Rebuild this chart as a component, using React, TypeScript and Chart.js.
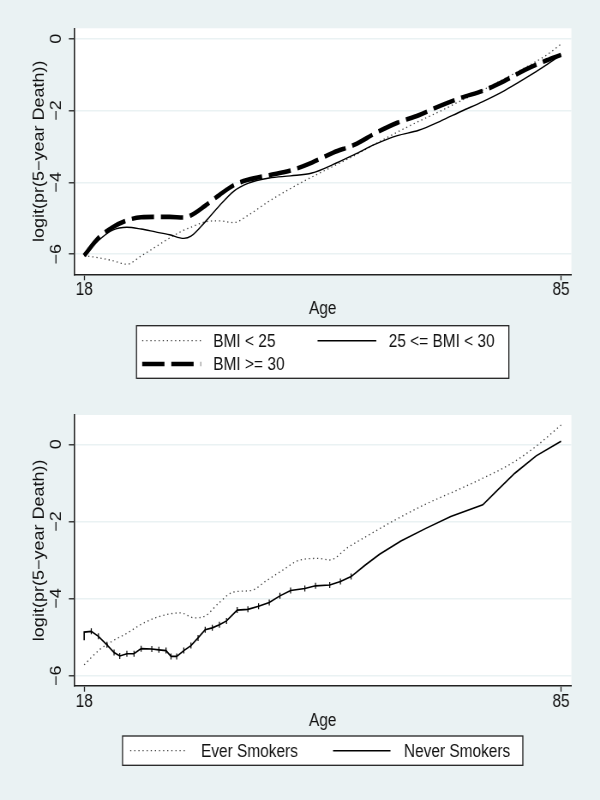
import React, { useEffect, useRef } from "react";
import { Chart, registerables } from "chart.js";

Chart.register(...registerables);

// ---------- data ----------
// Top panel: BMI groups
const bmiAges = [18, 20, 22, 24, 26, 28, 30, 32, 33, 35, 37, 39, 41, 44, 47, 50, 53, 56, 59, 62, 65, 68, 71, 74, 77, 80, 83, 85];
const bmiUnder25 = [-6.04, -6.1, -6.18, -6.28, -6.05, -5.8, -5.55, -5.33, -5.25, -5.1, -5.07, -5.12, -4.92, -4.52, -4.17, -3.85, -3.55, -3.25, -2.92, -2.6, -2.3, -2.02, -1.72, -1.43, -1.12, -0.8, -0.45, -0.15];
const bmi25to30 = [-6.04, -5.62, -5.33, -5.25, -5.3, -5.38, -5.46, -5.56, -5.5, -5.1, -4.65, -4.25, -4.03, -3.88, -3.82, -3.74, -3.5, -3.22, -2.93, -2.7, -2.55, -2.3, -2.02, -1.75, -1.45, -1.1, -0.72, -0.45];
const bmiOver30 = [-6.04, -5.55, -5.25, -5.06, -4.97, -4.96, -4.96, -4.98, -4.92, -4.65, -4.35, -4.08, -3.93, -3.8, -3.67, -3.45, -3.17, -2.95, -2.62, -2.34, -2.13, -1.87, -1.64, -1.45, -1.18, -0.86, -0.6, -0.45];

// Bottom panel: smoking status
const everAges = [18, 20, 22, 24, 26, 28, 30, 31.5, 33.5, 35, 37, 39, 41.5, 43.5, 46, 48.3, 51, 52.5, 55, 58, 62, 66, 70, 74, 78, 81.5, 85];
const everSmokers = [-5.72, -5.35, -5.1, -4.9, -4.67, -4.5, -4.4, -4.37, -4.5, -4.45, -4.1, -3.83, -3.79, -3.55, -3.25, -3.0, -2.96, -3.0, -2.68, -2.35, -1.93, -1.55, -1.22, -0.88, -0.5, -0.05, 0.5];
const neverAges = [18, 18, 19, 20, 21.2, 22.2, 23, 24, 25, 26, 27.5, 28.5, 29.5, 30.2, 31, 32, 33, 34, 35, 36, 37, 38, 39.5, 41, 42.5, 44, 45.5, 47, 49, 50.5, 52.5, 54, 55.5, 57.5, 59.5, 62.5, 66, 69.5, 74, 76, 78.5, 81.5, 85];
const neverSmokers = [-5.08, -4.87, -4.85, -4.98, -5.2, -5.4, -5.49, -5.43, -5.43, -5.3, -5.31, -5.33, -5.35, -5.5, -5.5, -5.35, -5.22, -5.02, -4.81, -4.76, -4.68, -4.58, -4.3, -4.28, -4.2, -4.1, -3.93, -3.79, -3.74, -3.67, -3.65, -3.56, -3.43, -3.13, -2.85, -2.51, -2.18, -1.87, -1.57, -1.2, -0.75, -0.3, 0.08];

const xTicks = [18, 85];
const yTicks = [-6, -4, -2, 0];
const xTitle = "Age";
const yTitle = "logit(pr(5\u2212year Death))";
const bmiLabels = ["BMI < 25", "25 <= BMI < 30", "BMI >= 30"];
const smokeLabels = ["Ever Smokers", "Never Smokers"];

// ---------- style ----------
const W = 700; // internal render width (displayed squeezed to 600)
const H = 400;
const FONT = '"Liberation Sans", Arial, Helvetica, sans-serif';
const BG = "#EAF2F3";
const INK = "#111";
const AXIS = "#222";

const fmt = (v: number) => (v < 0 ? "\u2212" + Math.abs(v) : String(v));
const pts = (xs: number[], ys: number[]) => xs.map((x, i) => ({ x, y: ys[i] }));

type LegendLayout = {
  top: number;
  height: number;
  width: number;
  rows: number[];
  cols: number[];
  slots: [number, number][];
  sample: number;
  textOffset: number;
};

function makePlugin(lg: LegendLayout) {
  return {
    id: "stataLook",
    beforeDraw(chart: any) {
      const { ctx, chartArea: a } = chart;
      ctx.save();
      ctx.fillStyle = BG;
      ctx.fillRect(0, 0, chart.width, chart.height);
      ctx.fillStyle = "#fff";
      ctx.fillRect(a.left, a.top, a.right - a.left, a.bottom - a.top);
      ctx.restore();
    },
    afterDraw(chart: any) {
      const { ctx, chartArea: a } = chart;
      const ys = chart.scales.y;
      // rotated y tick labels
      ctx.save();
      ctx.fillStyle = INK;
      ctx.font = `18px ${FONT}`;
      ctx.textAlign = "center";
      ctx.textBaseline = "alphabetic";
      for (const t of ys.ticks) {
        const py = ys.getPixelForValue(t.value);
        ctx.save();
        ctx.translate(a.left - 22, py);
        ctx.rotate(-Math.PI / 2);
        ctx.fillText(fmt(t.value), 0, 6.4);
        ctx.restore();
      }
      ctx.restore();

      // boxed legend
      const cx = (a.left + a.right) / 2;
      const bx = cx - lg.width / 2;
      ctx.save();
      ctx.fillStyle = "#fff";
      ctx.fillRect(bx, lg.top, lg.width, lg.height);
      ctx.strokeStyle = AXIS;
      ctx.lineWidth = 1.3;
      ctx.strokeRect(bx, lg.top, lg.width, lg.height);
      chart.data.datasets.forEach((ds: any, i: number) => {
        const [r, c] = lg.slots[i];
        const x0 = bx + lg.cols[c];
        const y0 = lg.top + lg.rows[r];
        ctx.save();
        ctx.strokeStyle = ds.borderColor;
        ctx.lineWidth = ds.borderWidth;
        ctx.setLineDash(ds.borderDash || []);
        ctx.beginPath();
        ctx.moveTo(x0, y0);
        ctx.lineTo(x0 + lg.sample, y0);
        ctx.stroke();
        ctx.restore();
        ctx.fillStyle = INK;
        ctx.font = `18px ${FONT}`;
        ctx.textAlign = "left";
        ctx.textBaseline = "middle";
        ctx.fillText(ds.label, x0 + lg.textOffset, y0 + 1);
      });
      ctx.restore();
    },
  };
}

function makeOptions(yMin: number, yMax: number, pad: { top: number; bottom: number }) {
  return {
    responsive: false,
    animation: false as const,
    events: [],
    layout: { padding: { left: 0, right: 33.4, top: pad.top, bottom: pad.bottom } },
    plugins: { legend: { display: false }, tooltip: { enabled: false } },
    scales: {
      x: {
        type: "linear" as const,
        min: 16.57,
        max: 86.45,
        afterBuildTicks: (s: any) => {
          s.ticks = xTicks.map((v) => ({ value: v }));
        },
        afterFit: (s: any) => {
          s.height = 44;
        },
        grid: { drawOnChartArea: false, drawTicks: true, tickLength: 6, tickColor: AXIS, tickWidth: 1.3 },
        border: { display: true, color: AXIS, width: 1.6 },
        ticks: {
          color: INK,
          padding: 1,
          maxRotation: 0,
          autoSkip: false,
          font: { family: FONT, size: 18, lineHeight: 1 },
          callback: (v: any) => String(v),
        },
        title: {
          display: true,
          text: xTitle,
          color: INK,
          padding: { top: 0, bottom: 0 },
          font: { family: FONT, size: 18, lineHeight: 1 },
        },
      },
      y: {
        type: "linear" as const,
        min: yMin,
        max: yMax,
        afterBuildTicks: (s: any) => {
          s.ticks = yTicks.map((v) => ({ value: v }));
        },
        afterFit: (s: any) => {
          s.width = 86.3;
        },
        grid: { color: BG, lineWidth: 1.6, drawTicks: true, tickLength: 6, tickColor: AXIS, tickWidth: 1.3 },
        border: { display: true, color: AXIS, width: 1.6 },
        ticks: { display: false },
        title: {
          display: true,
          text: yTitle,
          color: INK,
          padding: { top: 37, bottom: 0 },
          font: { family: FONT, size: 18, lineHeight: 1 },
        },
      },
    },
  };
}

function bmiConfig(): any {
  return {
    type: "line",
    data: {
      datasets: [
        {
          label: bmiLabels[0],
          data: pts(bmiAges, bmiUnder25),
          borderColor: "#3a3a3a",
          borderWidth: 1.3,
          borderDash: [1.3, 3.5],
          pointRadius: 0,
          cubicInterpolationMode: "monotone",
          order: 2,
        },
        {
          label: bmiLabels[1],
          data: pts(bmiAges, bmi25to30),
          borderColor: "#000",
          borderWidth: 1.4,
          pointRadius: 0,
          cubicInterpolationMode: "monotone",
          order: 1,
        },
        {
          label: bmiLabels[2],
          data: pts(bmiAges, bmiOver30),
          borderColor: "#000",
          borderWidth: 4.6,
          borderDash: [26, 8],
          pointRadius: 0,
          cubicInterpolationMode: "monotone",
          order: 0,
        },
      ],
    },
    options: makeOptions(-6.56, 0.29, { top: 28.3, bottom: 81.7 }),
    plugins: [
      makePlugin({
        top: 325.7,
        height: 52.6,
        width: 434.4,
        rows: [15, 38.3],
        cols: [6.6, 211.2],
        slots: [
          [0, 0],
          [0, 1],
          [1, 0],
        ],
        sample: 68.5,
        textOffset: 83,
      }),
    ],
  };
}

function smokeConfig(): any {
  return {
    type: "line",
    data: {
      datasets: [
        {
          label: smokeLabels[0],
          data: pts(everAges, everSmokers),
          borderColor: "#3a3a3a",
          borderWidth: 1.3,
          borderDash: [1.3, 3.5],
          pointRadius: 0,
          cubicInterpolationMode: "monotone",
          order: 1,
        },
        {
          label: smokeLabels[1],
          data: pts(neverAges, neverSmokers),
          borderColor: "#000",
          borderWidth: 1.6,
          tension: 0,
          pointStyle: "line",
          pointRotation: 90,
          pointRadius: (c: any) => {
            const a = neverAges[c.dataIndex];
            return a > 18.5 && a < 56 ? 3 : 0;
          },
          pointBorderColor: "#000",
          pointBorderWidth: 1.2,
          order: 0,
        },
      ],
    },
    options: makeOptions(-6.26, 0.76, { top: 15, bottom: 70.3 }),
    plugins: [
      makePlugin({
        top: 336,
        height: 29.3,
        width: 467,
        rows: [14.7],
        cols: [8.9, 245.6],
        slots: [
          [0, 0],
          [0, 1],
        ],
        sample: 67,
        textOffset: 82.6,
      }),
    ],
  };
}

function Panel({ make }: { make: () => any }) {
  const ref = useRef<HTMLCanvasElement | null>(null);
  useEffect(() => {
    if (!ref.current) return;
    const chart = new Chart(ref.current, make());
    return () => chart.destroy();
  }, [make]);
  return (
    <canvas
      ref={ref}
      width={W}
      height={H}
      style={{ width: "600px", height: "400px", display: "block" }}
    />
  );
}

export default function App() {
  return (
    <div
      style={{
        position: "absolute",
        left: 0,
        top: 0,
        width: 600,
        height: 800,
        background: BG,
        overflow: "hidden",
      }}
    >
      <Panel make={bmiConfig} />
      <Panel make={smokeConfig} />
    </div>
  );
}
